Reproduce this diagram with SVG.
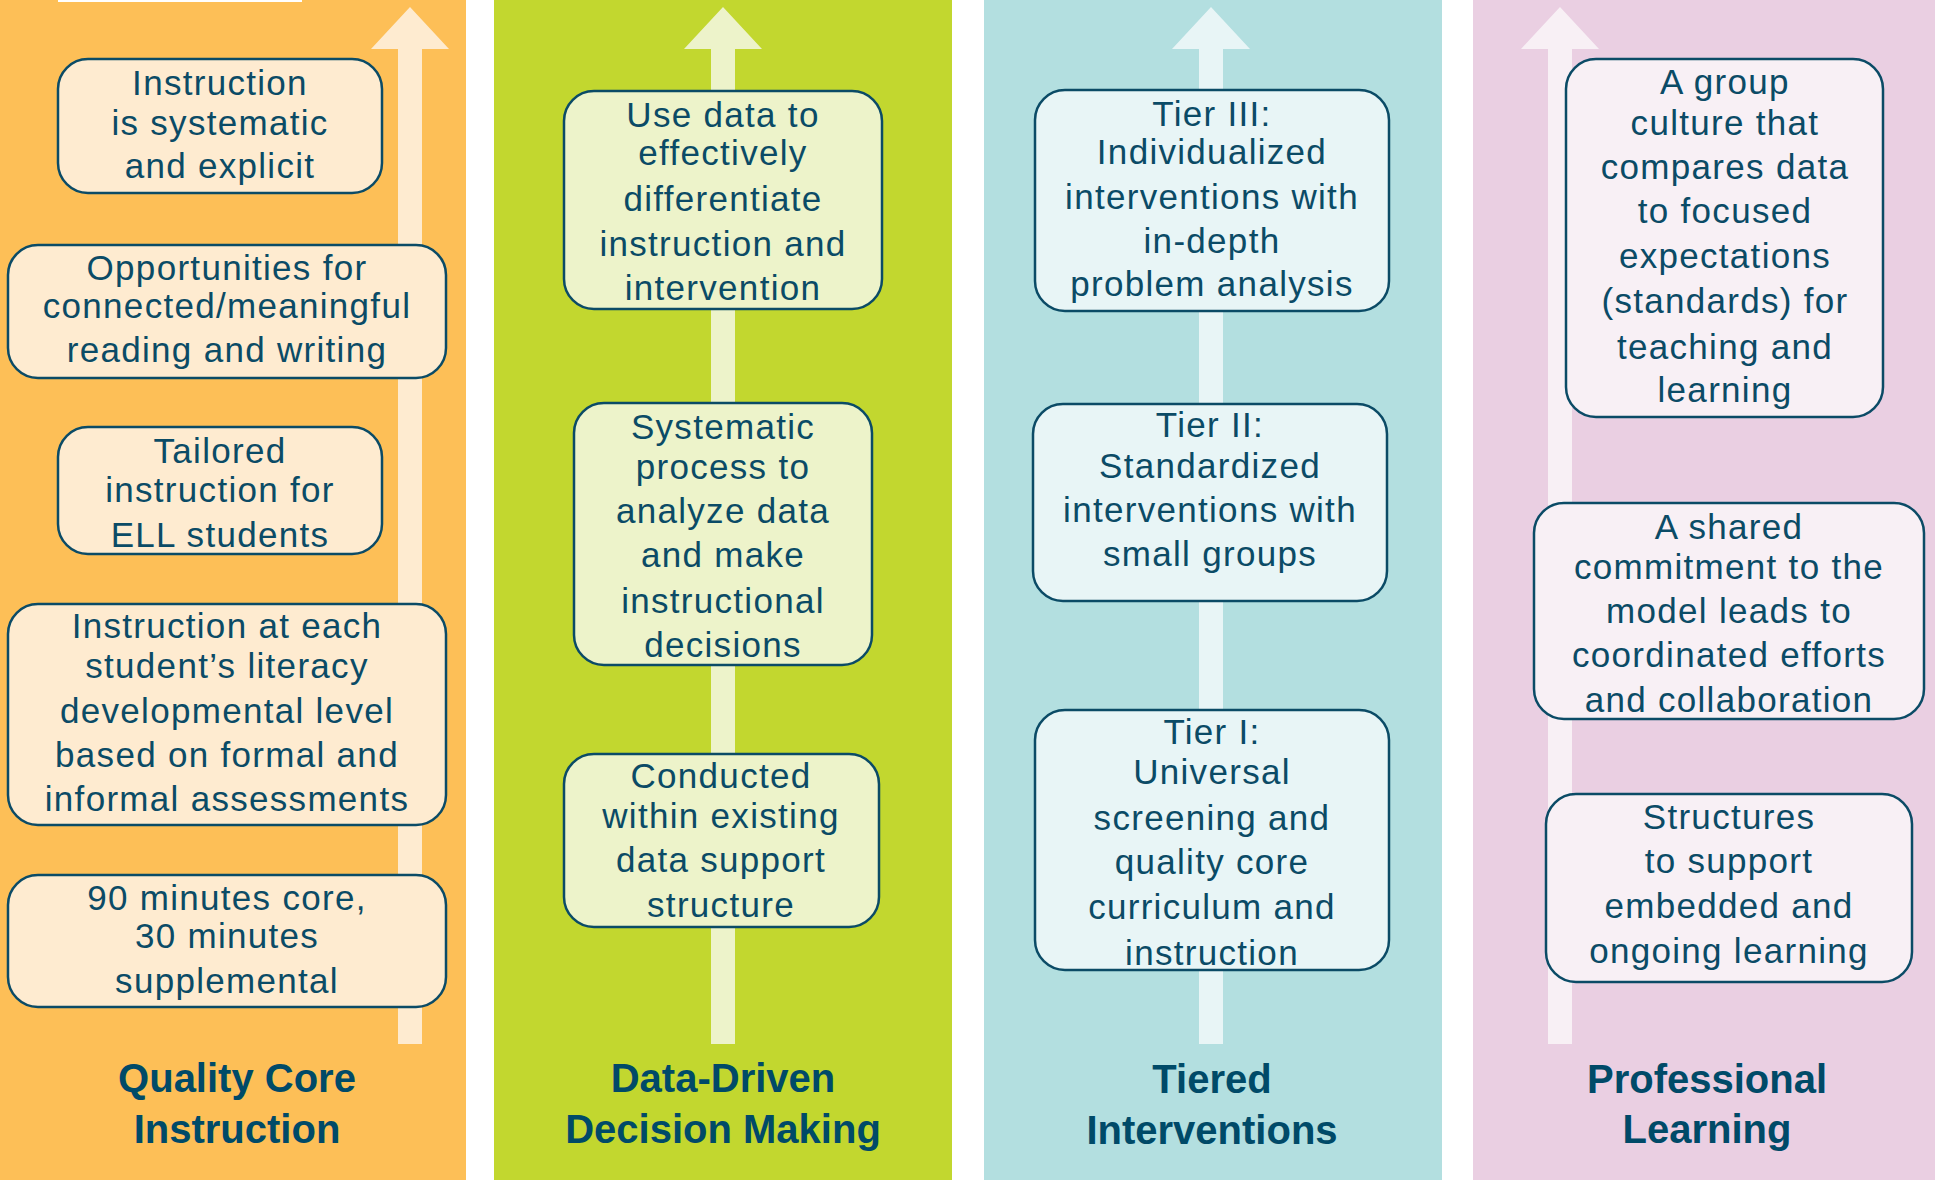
<svg xmlns="http://www.w3.org/2000/svg" width="1935" height="1180" viewBox="0 0 1935 1180">
<style>
.t{font-family:"Liberation Sans",Arial,sans-serif;font-size:35px;letter-spacing:1.3px;fill:#0b4b66;text-anchor:middle}
.h{font-family:"Liberation Sans",Arial,sans-serif;font-size:40px;font-weight:bold;fill:#004a68;text-anchor:middle}
.b{stroke:#0b4b66;stroke-width:2.5}
.o{fill:#feebd0}.g{fill:#edf3ca}.c{fill:#e8f5f6}.p{fill:#f8f0f5}
</style>
<rect width="1935" height="1180" fill="#ffffff"/>
<g id="columns">
<rect x="0" y="0" width="466" height="1180" fill="#fdbf57"/>
<rect x="58" y="0" width="244" height="2" fill="#ffffff"/>
<rect x="494" y="0" width="458" height="1180" fill="#c2d72f"/>
<rect x="984" y="0" width="458" height="1180" fill="#b3dfe0"/>
<rect x="1473" y="0" width="462" height="1180" fill="#eacfe2"/>
</g>
<g id="connectors">
<polygon class="o" points="410,7 449,49 422,49 422,1044 398,1044 398,49 371,49"/>
<polygon class="g" points="723,7 762,49 735,49 735,1044 711,1044 711,49 684,49"/>
<polygon class="c" points="1211,7 1250,49 1223,49 1223,1044 1199,1044 1199,49 1172,49"/>
<polygon class="p" points="1560,7 1599,49 1572,49 1572,1044 1548,1044 1548,49 1521,49"/>
</g>
<g id="col1-box1"><rect class="b o" x="58" y="59" width="324" height="134" rx="30"/>
<text class="t" x="220" y="95">Instruction</text><text class="t" x="220" y="135">is systematic</text><text class="t" x="220" y="178">and explicit</text></g>
<g id="col1-box2"><rect class="b o" x="8" y="245" width="438" height="133" rx="30"/>
<text class="t" x="227" y="280">Opportunities for</text><text class="t" x="227" y="318">connected/meaningful</text><text class="t" x="227" y="362">reading and writing</text></g>
<g id="col1-box3"><rect class="b o" x="58" y="427" width="324" height="127" rx="30"/>
<text class="t" x="220" y="463">Tailored</text><text class="t" x="220" y="502">instruction for</text><text class="t" x="220" y="547">ELL students</text></g>
<g id="col1-box4"><rect class="b o" x="8" y="604" width="438" height="221" rx="30"/>
<text class="t" x="227" y="638">Instruction at each</text><text class="t" x="227" y="678">student’s literacy</text><text class="t" x="227" y="723">developmental level</text><text class="t" x="227" y="767">based on formal and</text><text class="t" x="227" y="811">informal assessments</text></g>
<g id="col1-box5"><rect class="b o" x="8" y="875" width="438" height="132" rx="30"/>
<text class="t" x="227" y="910">90 minutes core,</text><text class="t" x="227" y="948">30 minutes</text><text class="t" x="227" y="993">supplemental</text></g>
<g id="col1-title"><text class="h" x="237" y="1092">Quality Core</text><text class="h" x="237" y="1143">Instruction</text></g>

<g id="col2-box1"><rect class="b g" x="564" y="91" width="318" height="218" rx="30"/>
<text class="t" x="723" y="127">Use data to</text><text class="t" x="723" y="165">effectively</text><text class="t" x="723" y="211">differentiate</text><text class="t" x="723" y="256">instruction and</text><text class="t" x="723" y="300">intervention</text></g>
<g id="col2-box2"><rect class="b g" x="574" y="403" width="298" height="262" rx="30"/>
<text class="t" x="723" y="439">Systematic</text><text class="t" x="723" y="479">process to</text><text class="t" x="723" y="523">analyze data</text><text class="t" x="723" y="567">and make</text><text class="t" x="723" y="613">instructional</text><text class="t" x="723" y="657">decisions</text></g>
<g id="col2-box3"><rect class="b g" x="564" y="754" width="315" height="173" rx="30"/>
<text class="t" x="721" y="788">Conducted</text><text class="t" x="721" y="828">within existing</text><text class="t" x="721" y="872">data support</text><text class="t" x="721" y="917">structure</text></g>
<g id="col2-title"><text class="h" x="723" y="1092">Data-Driven</text><text class="h" x="723" y="1143">Decision Making</text></g>

<g id="col3-box1"><rect class="b c" x="1035" y="90" width="354" height="221" rx="30"/>
<text class="t" x="1212" y="126">Tier III:</text><text class="t" x="1212" y="164">Individualized</text><text class="t" x="1212" y="209">interventions with</text><text class="t" x="1212" y="253">in-depth</text><text class="t" x="1212" y="296">problem analysis</text></g>
<g id="col3-box2"><rect class="b c" x="1033" y="404" width="354" height="197" rx="30"/>
<text class="t" x="1210" y="437">Tier II:</text><text class="t" x="1210" y="478">Standardized</text><text class="t" x="1210" y="522">interventions with</text><text class="t" x="1210" y="566">small groups</text></g>
<g id="col3-box3"><rect class="b c" x="1035" y="710" width="354" height="260" rx="30"/>
<text class="t" x="1212" y="744">Tier I:</text><text class="t" x="1212" y="784">Universal</text><text class="t" x="1212" y="830">screening and</text><text class="t" x="1212" y="874">quality core</text><text class="t" x="1212" y="919">curriculum and</text><text class="t" x="1212" y="965">instruction</text></g>
<g id="col3-title"><text class="h" x="1212" y="1093">Tiered</text><text class="h" x="1212" y="1144">Interventions</text></g>

<g id="col4-box1"><rect class="b p" x="1566" y="59" width="317" height="358" rx="30"/>
<text class="t" x="1725" y="94">A group</text><text class="t" x="1725" y="135">culture that</text><text class="t" x="1725" y="179">compares data</text><text class="t" x="1725" y="223">to focused</text><text class="t" x="1725" y="268">expectations</text><text class="t" x="1725" y="313">(standards) for</text><text class="t" x="1725" y="359">teaching and</text><text class="t" x="1725" y="402">learning</text></g>
<g id="col4-box2"><rect class="b p" x="1534" y="503" width="390" height="216" rx="30"/>
<text class="t" x="1729" y="539">A shared</text><text class="t" x="1729" y="579">commitment to the</text><text class="t" x="1729" y="623">model leads to</text><text class="t" x="1729" y="667">coordinated efforts</text><text class="t" x="1729" y="712">and collaboration</text></g>
<g id="col4-box3"><rect class="b p" x="1546" y="794" width="366" height="188" rx="30"/>
<text class="t" x="1729" y="829">Structures</text><text class="t" x="1729" y="873">to support</text><text class="t" x="1729" y="918">embedded and</text><text class="t" x="1729" y="963">ongoing learning</text></g>
<g id="col4-title"><text class="h" x="1707" y="1093">Professional</text><text class="h" x="1707" y="1143">Learning</text></g>
</svg>
